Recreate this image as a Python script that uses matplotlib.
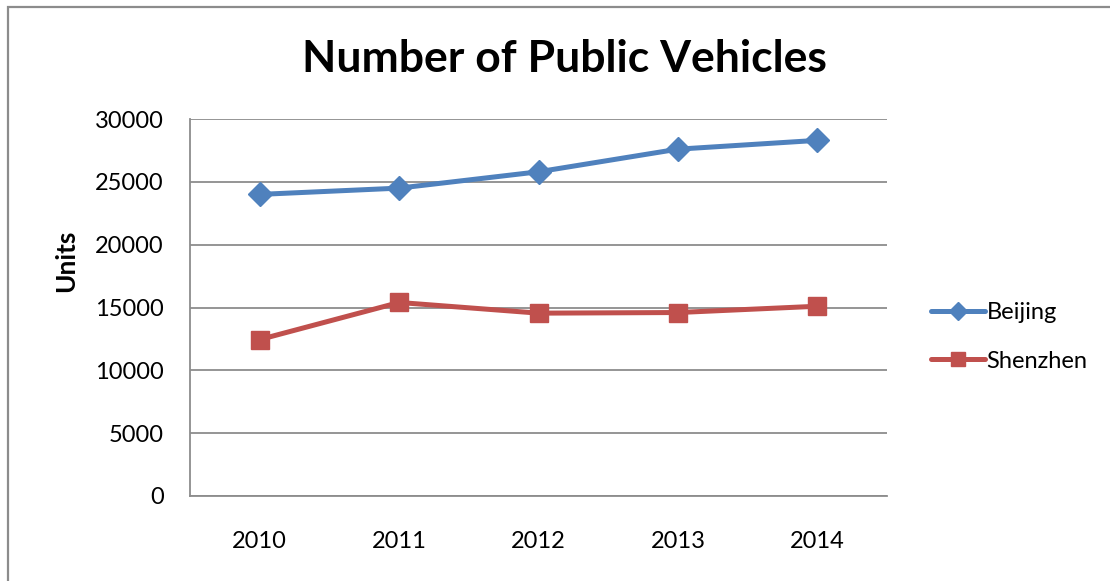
import matplotlib
matplotlib.use("Agg")
import matplotlib.pyplot as plt
from matplotlib.patches import Rectangle

years = ["2010", "2011", "2012", "2013", "2014"]
beijing = [24000, 24500, 25800, 27600, 28300]
shenzhen = [12450, 15400, 14550, 14600, 15100]
y_ticks = [0, 5000, 10000, 15000, 20000, 25000, 30000]

BLUE = "#4F81BD"
RED = "#C0504D"
GRID = "#8C8C8C"
FONT = "Lato"

W, H = 1110, 581
fig = plt.figure(figsize=(W / 100, H / 100), dpi=100)

# chart-area outline
fig.patches.append(Rectangle((8 / W, -0.2), 1.5, 1 - 7 / H + 0.2,
                             transform=fig.transFigure, fill=False,
                             edgecolor="#8C8C8C", linewidth=1.6))

ax = fig.add_axes([190 / W, 1 - 496 / H, (887 - 190) / W, (496 - 119) / H])

x = list(range(len(years)))
ax.plot(x, beijing, color=BLUE, lw=3.6, marker="D", ms=12.5,
        markeredgecolor=BLUE, label="Beijing", solid_joinstyle="round",
        solid_capstyle="round", zorder=3)
ax.plot(x, shenzhen, color=RED, lw=3.6, marker="s", ms=13,
        markeredgecolor=RED, label="Shenzhen", solid_joinstyle="round",
        solid_capstyle="round", zorder=3)

ax.set_xlim(-0.5, len(years) - 0.5)
ax.set_ylim(0, 30000)
ax.set_yticks(y_ticks)
ax.set_yticklabels([str(v) for v in y_ticks], fontsize=17, fontfamily=FONT)
ax.set_xticks(x)
ax.set_xticklabels(years, fontsize=17, fontfamily=FONT)
ax.tick_params(axis="both", length=0)
ax.tick_params(axis="y", pad=19)
ax.tick_params(axis="x", pad=25)

ax.yaxis.grid(True, color=GRID, linewidth=1.3)
ax.set_axisbelow(True)
for side in ("top", "right"):
    ax.spines[side].set_visible(False)
for side in ("left", "bottom"):
    ax.spines[side].set_color(GRID)
    ax.spines[side].set_linewidth(1.3)

fig.text(66 / W, 1 - 261 / H, "Units", rotation=90, ha="center",
         va="center", fontsize=19, fontweight="bold", fontfamily=FONT)
fig.text(564 / W, 1 - 59 / H, "Number of Public Vehicles", ha="center",
         va="center", fontsize=32, fontweight="bold", fontfamily=FONT)

leg = ax.legend(loc="center left", bbox_to_anchor=(931 / W, 1 - 337 / H),
                bbox_transform=fig.transFigure, frameon=False,
                prop={"family": FONT, "size": 17}, handlelength=2.3,
                handletextpad=0.05, labelspacing=1.15, markerscale=0.75,
                borderaxespad=0, borderpad=0)

fig.savefig("out.png", dpi=100)
